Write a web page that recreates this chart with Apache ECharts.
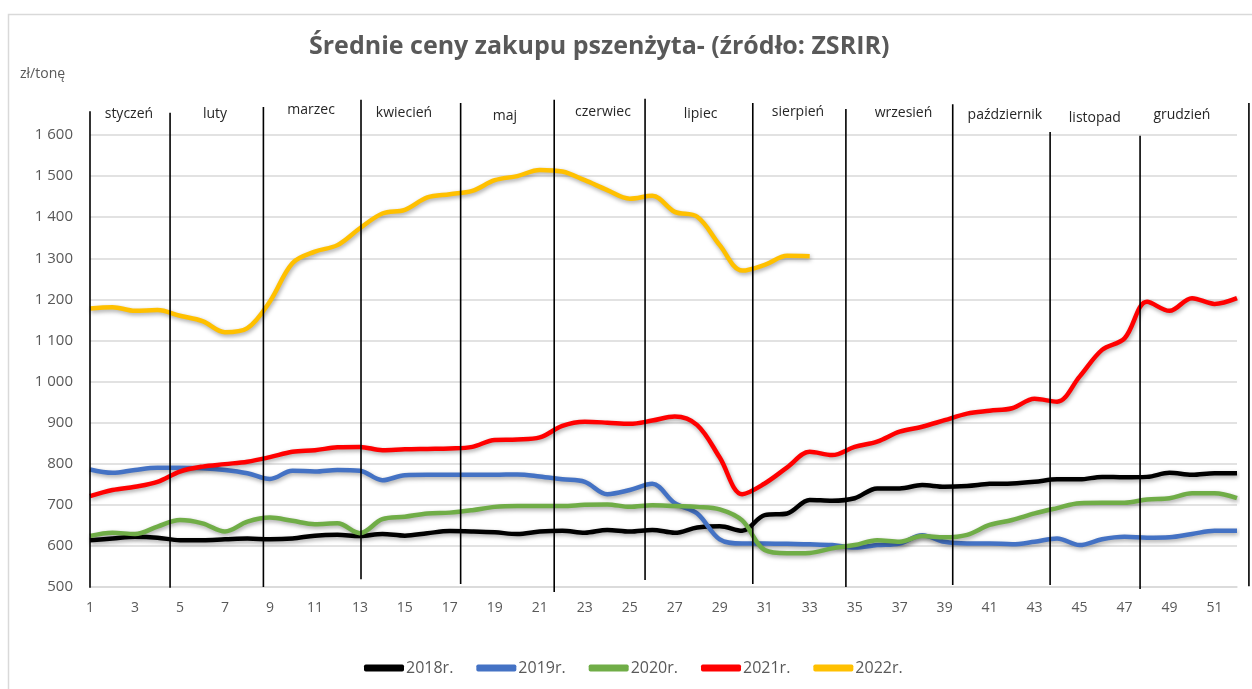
<!DOCTYPE html>
<html>
<head>
<meta charset="utf-8">
<script src="https://cdn.jsdelivr.net/npm/echarts@6/dist/echarts.min.js"></script>
<style>
  html, body { margin: 0; padding: 0; background: #fff; }
  #chart { width: 1252px; height: 689px; }
</style>
</head>
<body>
<div id="chart"></div>
<script>
// tygodnie roku
const weeks = ['1','2','3','4','5','6','7','8','9','10','11','12','13','14','15','16','17','18','19','20',
  '21','22','23','24','25','26','27','28','29','30','31','32','33','34','35','36','37','38','39','40',
  '41','42','43','44','45','46','47','48','49','50','51','52']

const y2018 = [614,618,622,620,614,614,616,618,616,618,625,627,624,629,625,631,636,635,633,629,
  635,637,632,639,635,639,632,645,648,637,675,679,712,710,716,740,740,748,744,746,
  751,752,756,762,762,768,767,768,778,773,777,777]
const y2019 = [786,778,785,790,790,789,785,777,763,783,781,785,783,760,772,773,773,773,773,774,
  769,762,756,726,736,751,704,679,616,606,606,605,604,602,596,602,606,626,610,606,
  606,604,610,618,602,616,622,620,621,629,637,637]
const y2020 = [624,632,629,647,663,655,635,659,669,661,653,655,631,665,671,679,681,687,695,697,
  697,697,700,701,695,699,697,695,689,662,590,582,583,594,602,614,610,624,621,627,
  651,663,679,692,704,705,705,713,716,728,728,716]
const y2021 = [721,736,744,756,781,793,799,805,816,829,833,840,841,833,835,836,837,841,858,859,
  864,892,902,900,897,905,915,894,815,726,752,791,829,821,841,854,878,890,906,922,
  929,935,958,951,1012,1077,1105,1194,1172,1203,1189,1203]
const y2022 = [1178,1181,1172,1174,1160,1147,1120,1130,1195,1288,1316,1332,1373,1409,1418,1448,1456,1464,1490,1500,
  1515,1511,1490,1466,1445,1452,1413,1401,1332,1270,1284,1306,1305]

const yearNames = ['2018r.', '2019r.', '2020r.', '2021r.', '2022r.']
const yearColors = ['#000000', '#4472C4', '#70AD47', '#FF0000', '#FFC000']

// granice miesięcy (w tygodniach) i zasięg pionowych kresek (zł/t)
const sepWeek = [1, 4.56, 8.71, 13.05, 17.48, 21.64, 25.68, 30.47, 34.61, 39.36, 43.69, 47.69, 52.53]
const sepTop = [1658, 1654, 1668, 1686, 1678, 1686, 1688, 1678, 1663, 1675, 1607, 1598, 1678]
const sepBottom = [498, 498, 500, 519, 507, 488, 517, 507, 500, 505, 505, 495, 502]

const monthNames = ['styczeń', 'luty', 'marzec', 'kwiecień', 'maj', 'czerwiec', 'lipiec', 'sierpień',
  'wrzesień', 'październik', 'listopad', 'grudzień']
const monthWeek = [2.73, 6.56, 10.83, 14.96, 19.45, 23.81, 28.15, 32.48, 37.17, 41.68, 45.68, 49.55]
const monthLevel = [1652, 1652, 1660, 1653, 1646, 1655, 1651, 1656, 1653, 1648, 1641, 1649]

const FONT = '"Open Sans", "Noto Sans", sans-serif'
const chart = echarts.init(document.getElementById('chart'))

const lineSeries = [y2018, y2019, y2020, y2021, y2022].map((d, i) => ({
  name: yearNames[i],
  type: 'line',
  data: d,
  symbol: 'none',
  smooth: 0.35,
  z: 3,
  lineStyle: {
    color: yearColors[i],
    width: 4.5,
    shadowColor: 'rgba(0,0,0,0.35)',
    shadowBlur: 4,
    shadowOffsetX: 1,
    shadowOffsetY: 2
  },
  itemStyle: { color: yearColors[i] }
}))

const option = {
  animation: false,
  backgroundColor: '#fff',
  title: {
    text: 'Średnie ceny zakupu pszenżyta- (źródło: ZSRIR)',
    left: 304,
    top: 29,
    textStyle: { fontFamily: FONT, fontSize: 25, fontWeight: 'bold', color: '#595959' }
  },
  graphic: [
    {
      type: 'rect',
      shape: { x: 8.5, y: 14.5, width: 1260, height: 700 },
      style: { fill: 'none', stroke: '#d9d9d9', lineWidth: 1.5 },
      silent: true
    },
    {
      type: 'text',
      left: 20,
      top: 67,
      style: { text: 'zł/tonę', fill: '#595959', fontFamily: FONT, fontSize: 14 }
    }
  ],
  legend: {
    data: yearNames,
    left: 359,
    top: 655,
    icon: 'roundRect',
    itemWidth: 40,
    itemHeight: 7,
    itemGap: 23,
    textStyle: { fontFamily: FONT, fontSize: 16, color: '#595959', padding: [0, 0, 0, -3] }
  },
  grid: { left: 90, right: 15, top: 135, bottom: 102 },
  xAxis: [
    {
      type: 'category',
      data: weeks,
      boundaryGap: false,
      axisTick: { show: false },
      axisLine: { lineStyle: { color: '#d9d9d9', width: 1.5 } },
      axisLabel: { interval: 1, color: '#595959', fontFamily: FONT, fontSize: 14, margin: 14 },
      splitLine: { show: false }
    },
    { type: 'value', min: 1, max: 52, show: false }
  ],
  yAxis: {
    type: 'value',
    min: 500,
    max: 1600,
    interval: 100,
    axisLine: { show: false },
    axisTick: { show: false },
    axisLabel: {
      color: '#595959',
      fontFamily: FONT,
      fontSize: 15,
      margin: 17,
      formatter: v => String(v).replace(/\B(?=(\d{3})+(?!\d))/g, ' ')
    },
    splitLine: { lineStyle: { color: '#d9d9d9', width: 1.5 } }
  },
  series: [
    {
      name: 'granice',
      type: 'custom',
      xAxisIndex: 1,
      clip: false,
      z: 4,
      silent: true,
      data: sepWeek.map((w, i) => [w, sepTop[i], sepBottom[i]]),
      renderItem: (params, api) => {
        const p1 = api.coord([api.value(0), api.value(1)])
        const p2 = api.coord([api.value(0), api.value(2)])
        return {
          type: 'line',
          shape: { x1: p1[0], y1: p1[1], x2: p2[0], y2: p2[1] },
          style: { stroke: '#000', lineWidth: 1.6 }
        }
      }
    },
    {
      name: 'miesiące',
      type: 'custom',
      xAxisIndex: 1,
      clip: false,
      z: 4,
      silent: true,
      data: monthWeek.map((w, i) => [w, monthLevel[i]]),
      renderItem: (params, api) => {
        const p = api.coord([api.value(0), api.value(1)])
        return {
          type: 'text',
          x: p[0],
          y: p[1],
          style: {
            text: monthNames[params.dataIndex],
            fill: '#262626',
            fontFamily: FONT,
            fontSize: 14,
            align: 'center',
            verticalAlign: 'middle'
          }
        }
      }
    },
    ...lineSeries
  ]
}

chart.setOption(option)
window.addEventListener('resize', () => chart.resize())
</script>
</body>
</html>
